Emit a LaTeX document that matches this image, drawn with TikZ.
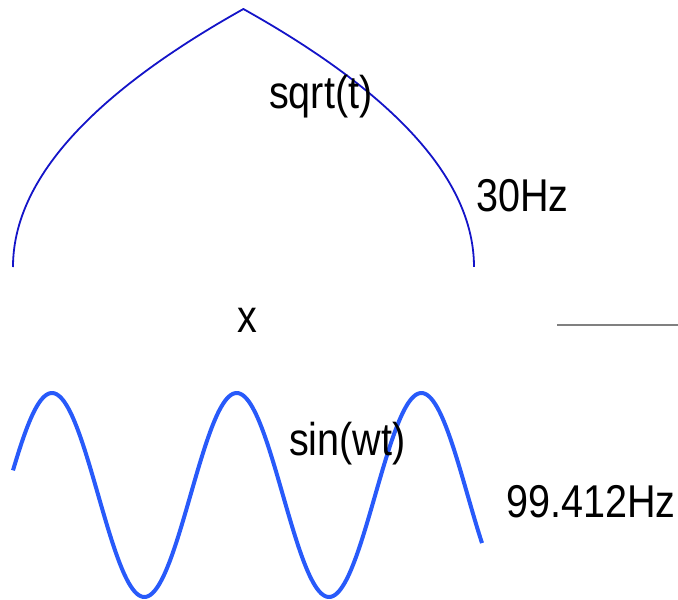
\documentclass[tikz,border=0pt]{standalone}
\usepackage{fontspec}
\setmainfont[FakeStretch=0.86]{Liberation Sans}
\definecolor{topblue}{RGB}{20,20,200}
\definecolor{sinblue}{RGB}{40,90,250}
\definecolor{rulegray}{RGB}{128,128,128}
\begin{document}
\begin{tikzpicture}[x=1pt,y=-1pt,
  lbl/.style={anchor=base west,inner sep=0pt,font=\fontsize{46}{50}\selectfont},
  topcurve/.style={draw=topblue,line width=1.8pt,line join=round},
  sincurve/.style={draw=sinblue,line width=4pt,line join=round},
  grayline/.style={draw=rulegray,line width=2pt}]
\useasboundingbox (0,0) rectangle (678,600);
% upper sqrt curve
\draw[topcurve] plot[domain=0:1,samples=80,variable=\t] ({13+230.4*\t*\t},{267-258*\t})
  -- plot[domain=1:0,samples=80,variable=\t] ({474-230.6*\t*\t},{267-258*\t});
% lower sine curve
\draw[sincurve] plot[domain=13:482,samples=240,smooth] (\x,{495-102*cos(((\x-52)/184.7)*360)});
% gray line
\coordinate (gl) at (557,325);
\coordinate (gr) at (678,325);
\draw[grayline] (gl) -- (gr);
% labels
\node[lbl] (sq) at (269,108) {sqrt(t)};
\node[lbl] (f1) at (476,211) {30Hz};
\node[lbl] (xx) at (237,332) {x};
\node[lbl] (sn) at (289,455) {sin(wt)};
\node[lbl] (f2) at (506,517) {99.412Hz};
\end{tikzpicture}
\end{document}
